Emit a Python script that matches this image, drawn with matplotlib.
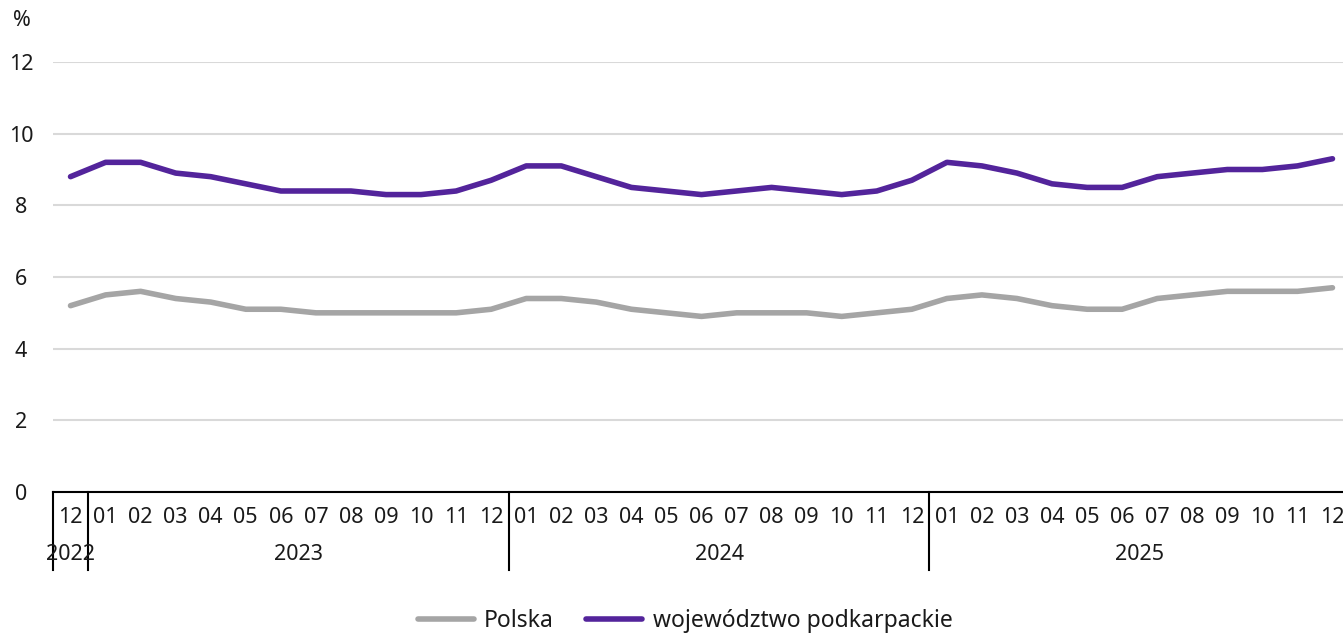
import numpy as np
import matplotlib
matplotlib.use("Agg")
from matplotlib import pyplot as plt
from matplotlib.transforms import blended_transform_factory

plt.rcParams['font.family'] = ['Noto Sans', 'DejaVu Sans']

months = ["12", "01", "02", "03", "04", "05", "06", "07", "08", "09", "10", "11", "12",
          "01", "02", "03", "04", "05", "06", "07", "08", "09", "10", "11", "12",
          "01", "02", "03", "04", "05", "06", "07", "08", "09", "10", "11", "12"]
years = ["2022", "2023", "2024", "2025"]
year_spans = [(0, 0), (1, 12), (13, 24), (25, 36)]

polska = [5.2, 5.5, 5.6, 5.4, 5.3, 5.1, 5.1, 5.0, 5.0, 5.0, 5.0, 5.0, 5.1,
          5.4, 5.4, 5.3, 5.1, 5.0, 4.9, 5.0, 5.0, 5.0, 4.9, 5.0, 5.1,
          5.4, 5.5, 5.4, 5.2, 5.1, 5.1, 5.4, 5.5, 5.6, 5.6, 5.6, 5.7]
podkarpackie = [8.8, 9.2, 9.2, 8.9, 8.8, 8.6, 8.4, 8.4, 8.4, 8.3, 8.3, 8.4, 8.7,
                9.1, 9.1, 8.8, 8.5, 8.4, 8.3, 8.4, 8.5, 8.4, 8.3, 8.4, 8.7,
                9.2, 9.1, 8.9, 8.6, 8.5, 8.5, 8.8, 8.9, 9.0, 9.0, 9.1, 9.3]

W, H = 1343, 635
fs = 15.5
txt = '#1a1a1a'
fig = plt.figure(figsize=(W / 100, H / 100), dpi=100)
ax = fig.add_axes([53 / W, (H - 492) / H, (1350 - 53) / W, 430 / H])

x = np.arange(len(months))
ax.plot(x, polska, color='#a5a5a5', lw=4, label='Polska', solid_capstyle='round')
ax.plot(x, podkarpackie, color='#53249b', lw=4, label='województwo podkarpackie',
        solid_capstyle='round')

ax.set_xlim(-0.5, len(months) - 0.5)
ax.set_ylim(0, 12)
ax.set_yticks(range(0, 13, 2))
ax.yaxis.grid(True, color='#d9d9d9', lw=1.5)
ax.set_axisbelow(True)
for s in ['top', 'right', 'left']:
    ax.spines[s].set_visible(False)
ax.spines['bottom'].set_color('black')
ax.spines['bottom'].set_linewidth(1.5)
ax.tick_params(axis='y', length=0, pad=23, labelsize=fs, labelcolor=txt)
for lab in ax.get_yticklabels():
    lab.set_horizontalalignment('center')
ax.set_xticks(x)
ax.set_xticklabels(months, fontsize=fs, color=txt)
ax.tick_params(axis='x', length=0, pad=11)

trans = blended_transform_factory(ax.transData, ax.transAxes)
depth = -(570 - 492) / 430
for b in [-0.5, 0.5, 12.5, 24.5]:
    ax.plot([b, b], [0, depth], transform=trans, color='black', lw=1.5, clip_on=False)
for yr, (a, b) in zip(years, year_spans):
    ax.text((a + b) / 2, -(554 - 492) / 430, yr, transform=trans, ha='center', va='center',
            fontsize=fs, color=txt)

fig.text(22 / W, 1 - 20 / H, '%', ha='center', va='center', fontsize=fs, color=txt)

fig.legend(loc='center', bbox_to_anchor=(685 / W, 1 - 621 / H), ncol=2, frameon=False,
           fontsize=16.5, handlelength=2.45, columnspacing=1.4, handletextpad=0.45,
           labelcolor=txt)

fig.savefig('out.png', dpi=100)
